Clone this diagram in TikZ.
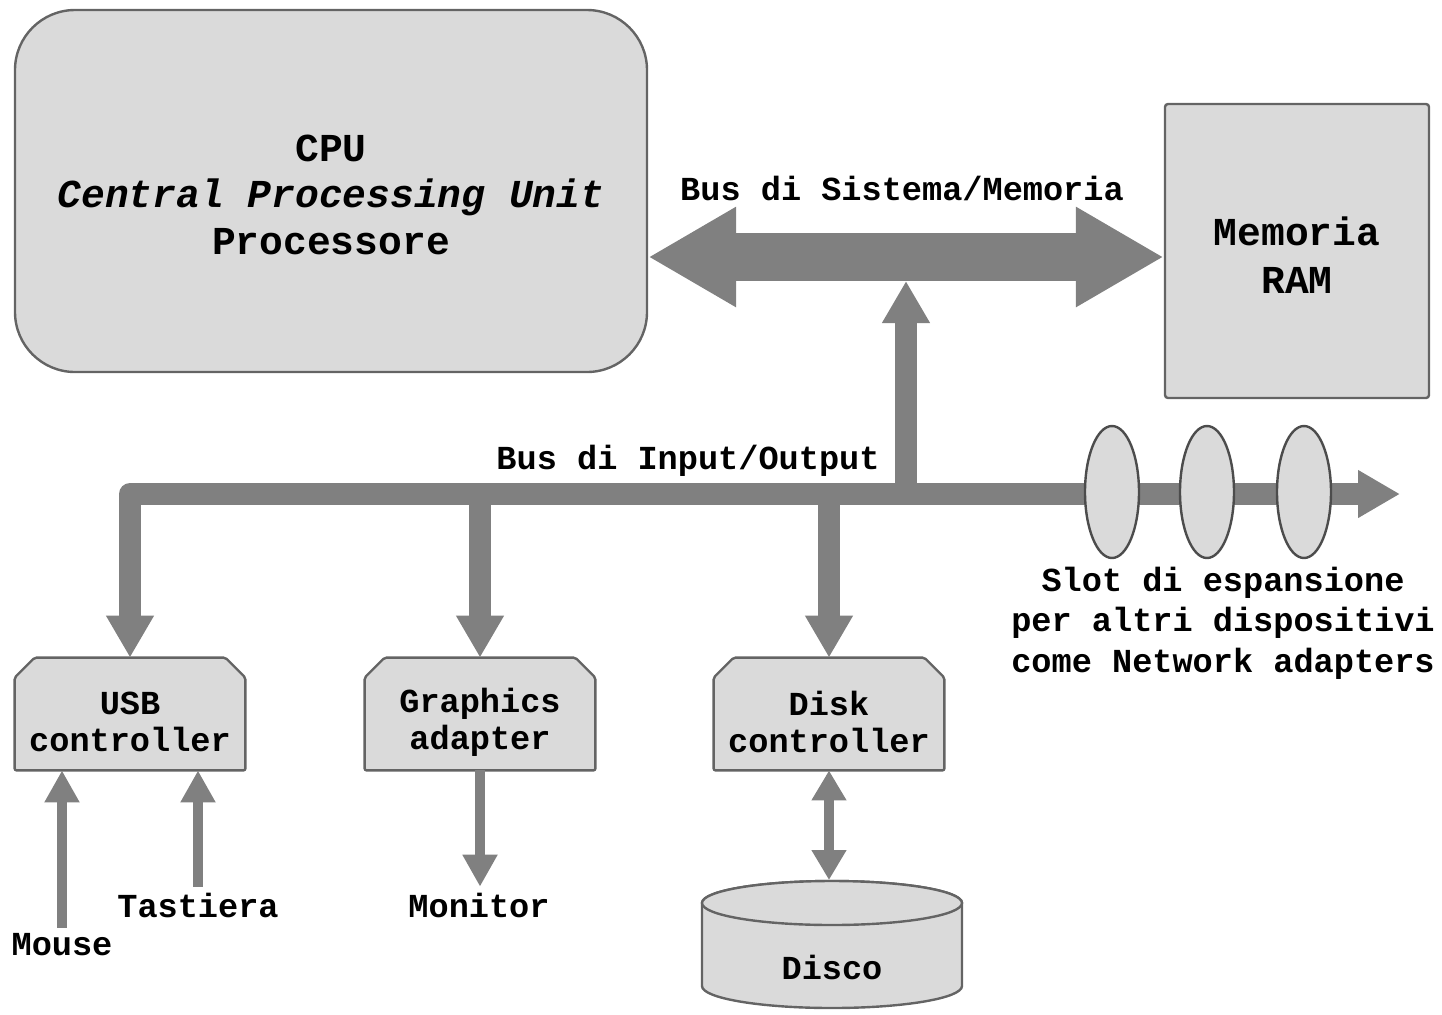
\documentclass[tikz,border=0pt]{standalone}
\usepackage{fontspec}
\setmainfont{Liberation Mono}
\usetikzlibrary{arrows.meta}
\usetikzlibrary{calc}
\usetikzlibrary{backgrounds}
\usetikzlibrary{shapes.geometric}
\usepackage{xcolor}

\definecolor{boxgray}{HTML}{DADADA}
\definecolor{linegray}{HTML}{646464}
\definecolor{busgray}{HTML}{808080}

\begin{document}
\begin{tikzpicture}[x=0.5pt, y=-0.5pt,
  box/.style={draw=linegray, fill=boxgray, line width=1.2pt},
  txt/.style={inner sep=0pt, align=center, font=\fontsize{16.8}{18.5}\selectfont\bfseries},
  bigtxt/.style={align=center, font=\fontsize{19.8}{23.2}\selectfont\bfseries},
  ctrl/.style={minimum width=115pt, minimum height=56pt, inner sep=0pt,
    label={[txt, yshift=-4pt]center:{#1}}},
  slot/.style={box, draw=black!70, ellipse, minimum width=27pt, minimum height=66pt, inner sep=0pt},
  sysbus/.style={busgray, line width=24pt, {Triangle[length=44pt,width=47pt]}-{Triangle[length=44pt,width=47pt]}},
  iobus/.style={busgray, line width=11pt, line join=round},
  iohead/.style={-{Triangle[length=21pt,width=22.5pt]}},
  small/.style={busgray, line width=5pt, -{Triangle[length=16pt,width=16.5pt]}},
  smallboth/.style={busgray, line width=5pt, {Triangle[length=15pt,width=16.5pt]}-{Triangle[length=15pt,width=16.5pt]}}
]
\useasboundingbox (0,0) rectangle (1442,1014);

%%%%%% main boxes %%%%%%
\node[box, bigtxt, rounded corners=30pt, minimum width=316pt, minimum height=181pt] (cpu) at (331,191)
  {\rule{0pt}{17pt}CPU\\\textit{Central Processing Unit}\\Processore};
\node[box, bigtxt, rounded corners=1.5pt, minimum width=132pt, minimum height=147pt,
  font=\fontsize{19.8}{24}\selectfont\bfseries] (mem) at (1297,251) {\rule{0pt}{18pt}Memoria\\RAM};

%%%%%% controllers %%%%%%
\node[ctrl={USB\\controller}] (usb) at (130,714) {};
\node[ctrl={Graphics\\adapter}] (gfx) at (480,714) {};
\node[ctrl={Disk\\controller}] (dsk) at (829,714) {};

\begin{pgfonlayer}{background}
\foreach \c in {usb,gfx,dsk}
  \filldraw[box, rounded corners=1pt] (\c.south west) -- ($(\c.north west)+(0,20)$) -- ($(\c.north west)+(20,0)$)
    -- ($(\c.north east)+(-20,0)$) -- ($(\c.north east)+(0,20)$) -- (\c.south east) -- cycle;

% disco
\filldraw[box] (702,903) -- (702,986) arc[start angle=180, end angle=0, x radius=130, y radius=22]
  -- (962,903) arc[start angle=0, end angle=-180, x radius=130, y radius=22] -- cycle;
\draw[box] (832,903) ellipse [x radius=130, y radius=22];
\end{pgfonlayer}

%%%%%% labels %%%%%%
\node[txt] (sbl) at (902,188) {Bus di Sistema/Memoria};
\node[txt] (iol) at (688,461) {Bus di Input/Output};
\node[txt, font=\fontsize{16.8}{20.3}\selectfont\bfseries] (slotl) at (1223,623)
  {Slot di espansione\\per altri dispositivi\\come Network adapters};
\node[txt, outer sep=3pt] (mouse) at (62,945) {Mouse};
\node[txt, outer sep=3pt] (tast) at (198,905) {Tastiera};
\node[txt, outer sep=3pt] (mon) at (479,905) {Monitor};
\node[txt] (disco) at (832,967) {Disco};

%%%%%% buses %%%%%%
\coordinate (sb) at (906,257);
\coordinate (io) at (906,494);
\coordinate (ioend) at (1400,494);
\coordinate (dtop) at (829,880);

\draw[sysbus] (cpu.east |- sb) -- (mem.west |- sb);
\draw[iobus, iohead] (io) -- ([yshift=-12pt]sb);
\draw[iobus, {Triangle[length=21pt,width=22.5pt]}-{Triangle[length=21pt,width=22.5pt]}] (usb.north) |- (ioend);
\draw[iobus, iohead] (io -| gfx.north) -- (gfx.north);
\draw[iobus, iohead] (io -| dsk.north) -- (dsk.north);

% slots
\node[slot] (s1) at (1112,492) {};
\node[slot] (s2) at (1207,492) {};
\node[slot] (s3) at (1304,492) {};

%%%%%% devices %%%%%%
\draw[small] (mouse.north) -- (mouse.north |- usb.south);
\draw[small] (tast.north) -- (tast.north |- usb.south);
\draw[small] (gfx.south) -- (gfx.south |- mon.north);
\draw[smallboth] (dsk.south) -- (dtop);

\end{tikzpicture}
\end{document}
